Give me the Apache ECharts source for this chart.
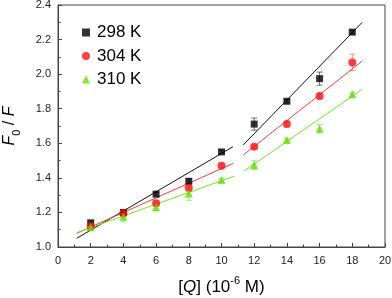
<!DOCTYPE html>
<html>
<head>
<meta charset="utf-8">
<script src="https://cdn.jsdelivr.net/npm/echarts@6/dist/echarts.min.js"></script>
<style>html,body{margin:0;padding:0;background:#fff}#c{width:392px;height:298px}</style>
</head>
<body>
<div id="c"></div>
<script>
const xValues = [2, 4, 6, 8, 10, 12, 14, 16, 18];
const y298 = [1.14, 1.20, 1.306, 1.38, 1.55, 1.711, 1.843, 1.974, 2.243];
const y304 = [1.12, 1.195, 1.253, 1.343, 1.47, 1.58, 1.711, 1.873, 2.068];
const y310 = [1.114, 1.175, 1.23, 1.31, 1.387, 1.474, 1.619, 1.684, 1.883];
const e298 = [0.01, 0.015, 0.01, 0.015, 0.01, 0.035, 0.01, 0.038, 0.01];
const e304 = [0.015, 0.02, 0.015, 0.02, 0.01, 0.01, 0.015, 0.015, 0.048];
const e310 = [0.015, 0.03, 0.02, 0.04, 0.01, 0.025, 0.01, 0.024, 0.01];
const fit298 = [[[1.14, 1.05], [10.7, 1.58]], [[11.33, 1.59], [18.61, 2.30]]];
const fit304 = [[[1.14, 1.079], [10.72, 1.484]], [[11.33, 1.532], [18.61, 2.076]]];
const fit310 = [[[1.14, 1.083], [10.78, 1.41]], [[11.4, 1.441], [18.61, 1.912]]];
const names = ['298 K', '304 K', '310 K'];

const FONT = 'Liberation Sans, Arial, sans-serif';
const groups = [
  {name: names[0], y: y298, e: e298, fit: fit298, color: '#000000', line: '#111111', err: 'rgba(0,0,0,0.55)', symbol: 'rect', size: 7},
  {name: names[1], y: y304, e: e304, fit: fit304, color: '#ff1010', line: '#ff3a3a', err: 'rgba(255,40,40,0.5)', symbol: 'circle', size: 8},
  {name: names[2], y: y310, e: e310, fit: fit310, color: '#5fe000', line: '#70e820', err: 'rgba(90,220,0,0.55)', symbol: 'triangle', size: 8}
];

const series = [];
groups.forEach(g => {
  g.fit.forEach(seg => {
    series.push({type: 'line', data: seg, symbol: 'none', silent: true,
      lineStyle: {color: g.line, width: 1}, z: 2});
  });
  series.push({
    type: 'custom', silent: true, z: 3,
    data: xValues.map((x, i) => [x, g.y[i] - g.e[i], g.y[i] + g.e[i]]),
    renderItem: (params, api) => {
      const lo = api.coord([api.value(0), api.value(1)]);
      const hi = api.coord([api.value(0), api.value(2)]);
      const w = 3;
      const st = {stroke: g.err, lineWidth: 1};
      return {type: 'group', children: [
        {type: 'line', shape: {x1: lo[0], y1: lo[1], x2: hi[0], y2: hi[1]}, style: st},
        {type: 'line', shape: {x1: lo[0] - w, y1: lo[1], x2: lo[0] + w, y2: lo[1]}, style: st},
        {type: 'line', shape: {x1: hi[0] - w, y1: hi[1], x2: hi[0] + w, y2: hi[1]}, style: st}
      ]};
    }
  });
  series.push({
    name: g.name, type: 'scatter', symbol: g.symbol, symbolSize: g.size, z: 4,
    itemStyle: {color: g.color},
    data: xValues.map((x, i) => [x, g.y[i]])
  });
});

const axisCommon = {
  axisLine: {show: true, lineStyle: {color: '#444', width: 1}},
  axisTick: {show: true, inside: true, length: 4, lineStyle: {color: '#444'}},
  minorTick: {show: true, splitNumber: 2, length: 2.5, lineStyle: {color: '#444'}},
  splitLine: {show: false},
  axisLabel: {color: '#222', fontSize: 11, fontFamily: FONT}
};

const chart = echarts.init(document.getElementById('c'), null, {renderer: 'canvas'});
chart.setOption({
  animation: false,
  backgroundColor: '#fff',
  grid: {left: 58, right: 7, top: 5, bottom: 51, show: true, borderColor: '#444', borderWidth: 1,
         containLabel: false, outerBoundsMode: 'none'},
  legend: {
    data: names, orient: 'vertical', left: 77, top: 19, itemWidth: 8, itemHeight: 8, itemGap: 6.5,
    textStyle: {fontSize: 17, fontFamily: FONT, color: '#000', padding: [0, 0, 0, 2]}, selectedMode: false
  },
  xAxis: Object.assign({}, axisCommon, {
    type: 'value', min: 0, max: 20, interval: 2,
    axisLabel: Object.assign({}, axisCommon.axisLabel, {margin: 8}),
    name: '{n|[}{i|Q}{n|] (10}{sup|-6}{n| M)}', nameLocation: 'middle', nameGap: 28,
    nameTextStyle: {fontSize: 17, fontFamily: FONT, color: '#000',
      rich: {i: {fontSize: 17, fontStyle: 'italic', fontFamily: FONT, lineHeight: 24, verticalAlign: 'middle'},
             n: {fontSize: 17, fontFamily: FONT, lineHeight: 24, verticalAlign: 'middle'},
             sup: {fontSize: 11, fontFamily: FONT, lineHeight: 13, verticalAlign: 'top'}}}
  }),
  yAxis: Object.assign({}, axisCommon, {
    type: 'value', min: 1.0, max: 2.4, interval: 0.2,
    axisLabel: Object.assign({}, axisCommon.axisLabel, {margin: 7, formatter: v => v.toFixed(1)}),
    name: '{i|F}{sub|0}{n| / }{i|F}', nameLocation: 'middle', nameGap: 36,
    nameTextStyle: {fontSize: 16, fontFamily: FONT, color: '#000',
      rich: {i: {fontSize: 16, fontStyle: 'italic', fontFamily: FONT, lineHeight: 24, verticalAlign: 'middle'},
             sub: {fontSize: 11, fontFamily: FONT, lineHeight: 13, verticalAlign: 'bottom'},
             n: {fontSize: 16, fontFamily: FONT, lineHeight: 24, verticalAlign: 'middle'}}}
  }),
  series: series
});
</script>
</body>
</html>
